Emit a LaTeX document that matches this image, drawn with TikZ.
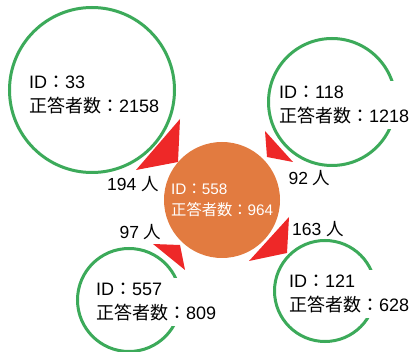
\documentclass[tikz,border=0pt]{standalone}
\usepackage{fontspec}
\setmainfont{Liberation Sans}
\newfontfamily\cjk{Noto Sans CJK JP}
\definecolor{ringgreen}{RGB}{60,170,90}
\definecolor{hubfill}{RGB}{226,123,64}
\definecolor{wedgered}{RGB}{238,40,40}
\begin{document}
\begin{tikzpicture}[x=1pt,y=-1pt,
  ring/.style={circle,draw=ringgreen,line width=3pt,inner sep=0pt,outer sep=0pt},
  info/.style={fill=white,align=left,anchor=west,inner xsep=1pt,inner ysep=5pt,font=\fontsize{18}{24}\selectfont},
  hubtext/.style={align=left,anchor=west,inner sep=0pt,text=white,font=\fontsize{15.3}{21}\selectfont},
  lbl/.style={inner sep=0pt,font=\fontsize{17.5}{21}\selectfont},
  wedge/.style={fill=wedgered,draw=none}]
\useasboundingbox (0,0) rectangle (412,352);
\fill[white] (0,0) rectangle (412,352);
% rings
\node[ring,minimum size=165pt] (r33) at (92,90) {};
\node[ring,minimum size=127pt] (r118) at (332,102) {};
\node[ring,minimum size=103pt] (r557) at (129,300) {};
\node[ring,minimum size=101pt] (r121) at (325,291) {};
% hub
\node[circle,fill=hubfill,minimum size=116pt,inner sep=0pt] (hub) at (222,200) {};
% wedges
\coordinate (a1) at (180,119); \coordinate (a2) at (136,170); \coordinate (a3) at (178,162);
\coordinate (b1) at (265,131); \coordinate (b2) at (267,157); \coordinate (b3) at (293,162);
\coordinate (c1) at (153,244); \coordinate (c2) at (180,245); \coordinate (c3) at (185,270);
\coordinate (d1) at (289,217); \coordinate (d2) at (287,253); \coordinate (d3) at (249,261);
\fill[wedge] (a1) -- (a2) -- (a3) -- cycle;
\fill[wedge] (b1) -- (b2) -- (b3) -- cycle;
\fill[wedge] (c1) -- (c2) -- (c3) -- cycle;
\fill[wedge] (d1) -- (d2) -- (d3) -- cycle;
% texts
\node[info] (t33) at (28,95) {ID{\cjk ：}33\\{\cjk 正答者数：}2158};
\node[info] (t118) at (278,105) {ID{\cjk ：}118\\{\cjk 正答者数：}1218};
\node[info] (t557) at (95,302) {ID{\cjk ：}557\\{\cjk 正答者数：}809};
\node[info] (t121) at (288,294) {ID{\cjk ：}121\\{\cjk 正答者数：}628};
\node[hubtext] (thub) at (171,200) {ID{\cjk ：}558\\{\cjk 正答者数：}964};
% labels
\node[lbl] (l194) at (133,184) {194 {\cjk 人}};
\node[lbl] (l97) at (140.5,232) {97 {\cjk 人}};
\node[lbl] (l92) at (309.5,178) {92 {\cjk 人}};
\node[lbl] (l163) at (318,229) {163 {\cjk 人}};
\end{tikzpicture}
\end{document}
